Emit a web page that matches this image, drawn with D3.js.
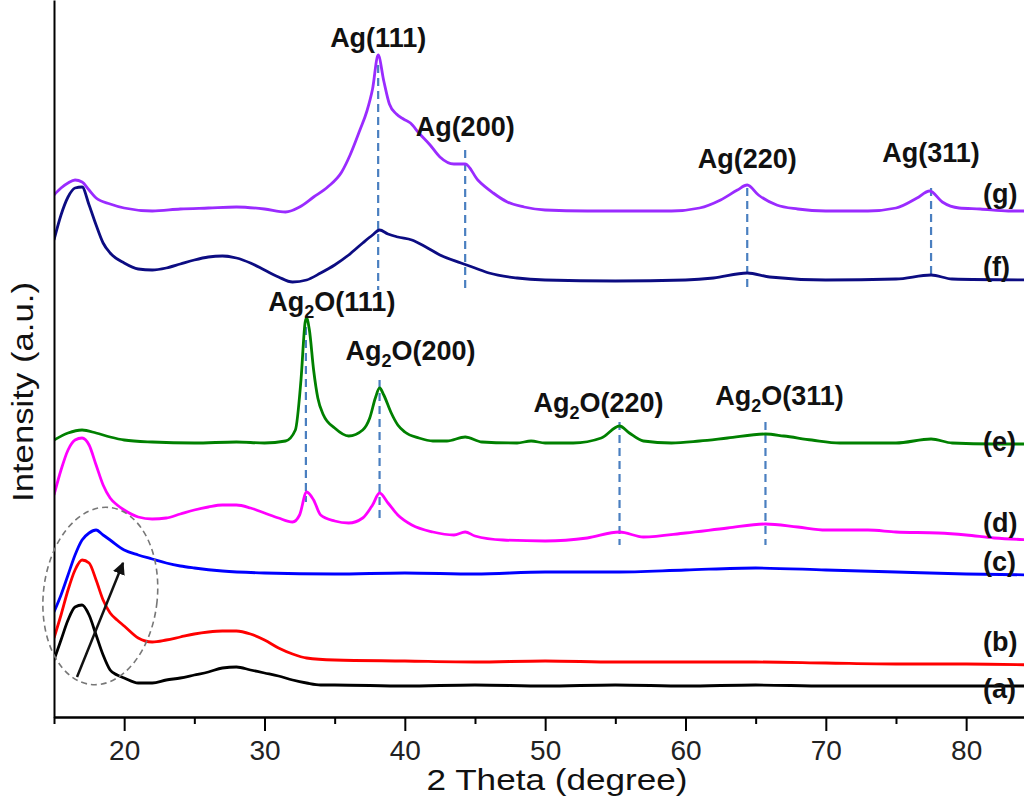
<!DOCTYPE html>
<html><head><meta charset="utf-8">
<script src="https://cdn.jsdelivr.net/npm/d3@7"></script>
<style>body{margin:0;background:#fff}svg{display:block}</style>
</head><body>
<svg id="c" width="1024" height="798"></svg>
<script>
// ---- data (2θ in degrees, intensity in a.u., offset-stacked) ----
const seriesA = [[15,57],[15.5,77],[16,97],[16.5,110],[17,112],[17.5,102],[18,82],[18.5,62],[19,47],[19.5,42],[20,39],[21,34],[22,34],[23,37],[24,39],[25,42],[26,45],[27,49],[28,50],[29,47],[30,44],[31,41],[32,37],[33,34],[34,32],[35,32],[40,31],[45,32],[50,31],[55,32],[60,31],[65,32],[70,31],[75,31],[80,31],[85,31]];
const seriesB = [[15,79],[15.5,102],[16,127],[16.5,147],[17,157],[17.5,154],[18,137],[18.5,117],[19,104],[19.5,97],[20,91],[21,79],[22,75],[23,77],[24,80],[25,83],[26,85],[27,86],[28,86],[29,83],[30,77],[31,69],[32,63],[33,59],[35,57],[40,56],[45,55],[50,56],[55,55],[60,55],[65,55],[70,54],[75,53],[80,53],[85,52]];
const seriesC = [[15,105],[15.5,122],[16,142],[16.5,162],[17,177],[17.5,184],[18,187],[18.5,182],[19,177],[20,167],[21,162],[22,158],[23,154],[24,151],[25,149],[27,146],[30,144],[35,143],[40,144],[45,143],[50,145],[55,145],[60,147],[65,149],[70,147],[75,145],[80,143],[85,142]];
const seriesD = [[15,222],[15.5,247],[16,267],[16.5,277],[17,279],[17.5,272],[18,252],[18.5,232],[19,219],[19.5,212],[20,207],[21,200],[22,198],[23,199],[24,203],[25,207],[26,210],[27,212],[28,212],[29,209],[30,204],[31,199],[32,195],[32.5,202],[33,225],[33.5,217],[34,202],[35,196],[36,194],[37,199],[37.7,212],[38.2,224],[38.8,214],[39.5,202],[40.5,192],[42,185],[43.5,182],[44.3,185],[45,181],[47,177],[50,176],[53,179],[55.3,185],[57,180],[60,184],[63,189],[65.7,193],[68,190],[70,187],[73,187],[75,185],[78,184],[80,182],[82,179],[85,177]];
const seriesE = [[15,277],[16,284],[17,287],[18,284],[19,280],[20,277],[22,275],[25,274],[28,275],[30,274],[31.5,276],[32.2,287],[32.6,337],[32.9,395],[33,399],[33.2,387],[33.5,347],[33.8,319],[34.2,302],[35,289],[36,281],[37,287],[37.5,299],[37.9,319],[38.2,329],[38.5,322],[39,305],[39.5,292],[40,285],[41,279],[42,276],[43,276],[44.3,280],[45.5,275],[48,274],[49,276],[50,274],[52,274],[54,279],[55.3,291],[56,284],[57,276],[59,274],[61,276],[63,279],[65.7,283],[67,281],[69,277],[71,274],[75,274],[77.5,278],[79,274],[82,273],[85,273]];
const seriesF = [[15,477],[15.5,502],[16,520],[16.5,529],[17,530],[17.5,512],[18,492],[18.5,474],[19,464],[20,454],[21,448],[22,447],[23,449],[24,453],[25,457],[26,460],[27,461],[28,459],[29,454],[30,447],[31,440],[32,435],[33,437],[34,444],[35,452],[36,462],[37,474],[37.7,482],[38.2,487],[38.8,483],[39.5,480],[40.5,477],[41.5,470],[42.5,462],[44,454],[45,449],[46,444],[48,439],[50,437],[55,436],[60,437],[62,439],[64.4,444],[66,440],[70,437],[75,438],[77.5,442],[79,438],[85,437]];
const seriesG = [[15,522],[15.5,529],[16,534],[16.5,537],[17,535],[17.5,527],[18,519],[19,513],[20,509],[22,506],[24,508],[26,509],[28,510],[30,508],[31.5,505],[32.5,510],[33.5,520],[34.5,530],[35.5,545],[36.1,562],[36.8,587],[37.3,606],[37.7,628],[38.1,662],[38.5,636],[38.9,613],[39.4,603],[39.9,598],[40.4,594],[41,584],[41.8,572],[42.5,560],[43.5,553],[44.3,553],[45.2,537],[46.3,524],[47.3,515],[48.5,510],[50,507],[53,506],[56,506],[59,506],[61,509],[62.5,517],[63.7,527],[64.4,532],[65.2,522],[66.5,512],[68,508],[70,506],[73,506],[75,509],[76.5,519],[77.4,526],[78.3,515],[79.5,509],[81,508],[83,506],[85,506]];

const seriesNames  = ["(a)","(b)","(c)","(d)","(e)","(f)","(g)"];
const seriesColors = ["#000000","#ff0000","#0000ff","#ff00ff","#008000","#0c0c82","#9a2bff"];
const seriesLabelLevel = [28,75,155,194,275,450,523];

const agPeaks   = ["(111)","(200)","(220)","(311)"];
const agTheta   = [38.1,44.3,64.4,77.5];
const agTop     = [652,567,529,529];
const agBottom  = [427,427,427,440];
const agLabelLevel = [670,581,549,555];

const ag2oPeaks  = ["(111)","(200)","(220)","(311)"];
const ag2oTheta  = [32.95,38.2,55.3,65.7];
const ag2oTop    = [390,337,295,295];
const ag2oBottom = [215,197,172,172];
const ag2oLabelTheta = [34.8,40.4,53.8,66.7];
const ag2oLabelLevel = [406,357,305,312];

const xTicks = [20,30,40,50,60,70,80];
const xMinor = [15,25,35,45,55,65,75,85];

// ---- drawing ----
const svg = d3.select("#c");
const x = d3.scaleLinear().domain([15,85]).range([54, 54+70*14.033]);
const y = d3.scaleLinear().domain([0,717]).range([717,0]);
const font = "'Liberation Sans', Arial, sans-serif";

const all = [seriesA,seriesB,seriesC,seriesD,seriesE,seriesF,seriesG];
const line = d3.line().x(d=>x(d[0])).y(d=>y(d[1])).curve(d3.curveMonotoneX);
svg.append("clipPath").attr("id","clp").append("rect").attr("x",54).attr("y",0).attr("width",1000).attr("height",717);

// dashed reference lines
const refG = svg.append("g").attr("stroke","#4a7fc0").attr("stroke-width",2.2).attr("stroke-dasharray","8,5");
agTheta.forEach((t,i)=>refG.append("line").attr("x1",x(t)).attr("x2",x(t)).attr("y1",y(agTop[i])).attr("y2",y(agBottom[i])));
ag2oTheta.forEach((t,i)=>refG.append("line").attr("x1",x(t)).attr("x2",x(t)).attr("y1",y(ag2oTop[i])).attr("y2",y(ag2oBottom[i])));

const lg = svg.append("g").attr("clip-path","url(#clp)");
all.forEach((s,i)=>{
  lg.append("path").datum(s).attr("d",line).attr("fill","none")
    .attr("stroke",seriesColors[i]).attr("stroke-width",2.8).attr("stroke-linejoin","round");
});

// axes
const ax = svg.append("g").attr("transform","translate(0,717)");
ax.call(d3.axisBottom(x).tickValues(xMinor).tickSize(7).tickSizeOuter(0).tickFormat(""));
const ax2 = svg.append("g").attr("transform","translate(0,717)");
ax2.call(d3.axisBottom(x).tickValues(xTicks).tickSize(14).tickSizeOuter(0).tickPadding(9).tickFormat(d3.format("d")));
[ax,ax2].forEach(g=>{g.selectAll("path,line").attr("stroke","#000").attr("stroke-width",2);});
ax2.selectAll("text").attr("font-family",font).attr("font-size",28).attr("fill","#222");
const ay = svg.append("g").attr("transform","translate(54,0)");
ay.call(d3.axisLeft(y).tickValues([]).tickSizeOuter(0));
ay.selectAll("path").attr("stroke","#000").attr("stroke-width",2);

svg.append("text").attr("x",557).attr("y",790).attr("text-anchor","middle")
  .attr("font-family",font).attr("font-size",30).attr("fill","#111")
  .attr("textLength",261).attr("lengthAdjust","spacingAndGlyphs").text("2 Theta (degree)");
svg.append("text").attr("transform","translate(33,392) rotate(-90)").attr("text-anchor","middle")
  .attr("font-family",font).attr("font-size",30).attr("fill","#111")
  .attr("textLength",220).attr("lengthAdjust","spacingAndGlyphs").text("Intensity (a.u.)");

// peak labels
const lab = svg.append("g").attr("font-family",font).attr("font-weight","bold").attr("font-size",27).attr("fill","#111").attr("text-anchor","middle");
agPeaks.forEach((p,i)=>lab.append("text").attr("x",x(agTheta[i])).attr("y",y(agLabelLevel[i])).text("Ag"+p));
ag2oPeaks.forEach((p,i)=>{
  const t = lab.append("text").attr("x",x(ag2oLabelTheta[i])).attr("y",y(ag2oLabelLevel[i]));
  t.append("tspan").text("Ag");
  t.append("tspan").attr("font-size",18).attr("dy",7).text("2");
  t.append("tspan").attr("dy",-7).text("O"+p);
});

// series labels
const sl = svg.append("g").attr("font-family",font).attr("font-weight","bold").attr("font-size",27).attr("fill","#111");
seriesNames.forEach((n,i)=>sl.append("text").attr("x",983).attr("y",y(seriesLabelLevel[i])).attr("dy","0.35em").text(n));

// dashed ellipse + arrow
svg.append("ellipse").attr("cx",x(18.3)).attr("cy",y(121)).attr("rx",57).attr("ry",89)
  .attr("transform",`rotate(6,${x(18.3)},${y(121)})`)
  .attr("fill","none").attr("stroke","#777").attr("stroke-width",1.6).attr("stroke-dasharray","6,4");
svg.append("defs").append("marker").attr("id","ah").attr("viewBox","0 0 10 10").attr("refX",9).attr("refY",5)
  .attr("markerWidth",5).attr("markerHeight",5).attr("orient","auto")
  .append("path").attr("d","M0,0L10,5L0,10z").attr("fill","#111");
svg.append("line").attr("x1",x(16.64)).attr("y1",y(40)).attr("x2",x(19.92)).attr("y2",y(154))
  .attr("stroke","#111").attr("stroke-width",2.5).attr("marker-end","url(#ah)");
</script>
</body></html>
